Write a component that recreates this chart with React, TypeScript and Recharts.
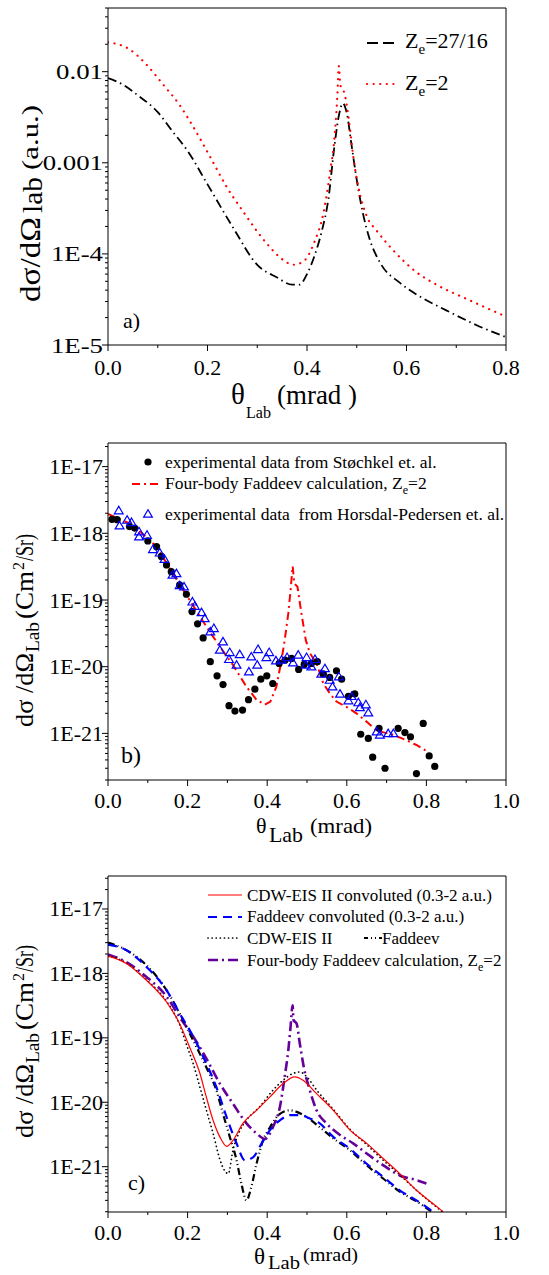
import React from 'react';
import { ComposedChart, Line, Scatter, XAxis, YAxis, ReferenceLine } from 'recharts';

const SERIF = "'Liberation Serif', 'Times New Roman', Tinos, 'DejaVu Serif', serif";

// ---------- Panel a data ----------
const aZe2716: [number, number][] = [
  [0, 0.0085], [0.03, 0.0072], [0.06, 0.0055], [0.1, 0.0036], [0.13, 0.0022], [0.16, 0.00135],
  [0.2, 0.00058], [0.25, 0.0002], [0.3, 7.6e-5], [0.34, 5.5e-5], [0.37, 4.6e-5], [0.385, 4.6e-5],
  [0.4, 6.0e-5], [0.415, 9.5e-5], [0.43, 1.8e-4], [0.443, 4.0e-4], [0.455, 0.0015], [0.465, 0.0035],
  [0.472, 0.0045], [0.48, 0.0035], [0.49, 0.0015], [0.5, 6.5e-4], [0.513, 2.7e-4], [0.526, 1.45e-4],
  [0.547, 8.0e-5], [0.587, 4.8e-5], [0.627, 3.4e-5], [0.68, 2.4e-5], [0.74, 1.66e-5], [0.8, 1.22e-5],
];
const aZe2: [number, number][] = [
  [0, 0.021], [0.044, 0.0175], [0.077, 0.012], [0.111, 0.0072], [0.144, 0.0043], [0.171, 0.0025],
  [0.205, 0.00117], [0.238, 5.5e-4], [0.272, 2.9e-4], [0.319, 1.3e-4], [0.352, 8.6e-5], [0.372, 7.6e-5],
  [0.392, 8.2e-5], [0.416, 1.4e-4], [0.433, 2.8e-4], [0.446, 7.7e-4], [0.456, 0.0021], [0.461, 0.0054],
  [0.464, 0.0115], [0.467, 0.0072], [0.476, 0.0056], [0.484, 0.003], [0.493, 0.00117], [0.503, 5.5e-4],
  [0.52, 2.6e-4], [0.54, 1.8e-4], [0.573, 1.1e-4], [0.62, 6.3e-5], [0.66, 4.6e-5], [0.721, 3.2e-5], [0.8, 2.05e-5],
];
const aXTicks = [0, 0.1, 0.2, 0.3, 0.4, 0.5, 0.6, 0.7, 0.8];
const aYLabels: [number, string][] = [[1e-2, '0.01'], [1e-3, '0.001'], [1e-4, '1E-4'], [1e-5, '1E-5']];
const aDecades = [1e-5, 1e-4, 1e-3, 1e-2];
const aDomain: [number, number] = [1e-5, 0.05];

// ---------- Panel b data ----------
const bStoechkel: [number, number][] = [
  [0.01, 1.62e-18], [0.023, 1.6e-18], [0.054, 1.26e-18], [0.067, 1.2e-18], [0.1, 7.7e-19], [0.122, 6.3e-19],
  [0.134, 4.5e-19], [0.147, 3.35e-19], [0.159, 2.66e-19], [0.18, 1.68e-19], [0.197, 1.22e-19], [0.211, 6.7e-20],
  [0.225, 4.4e-20], [0.239, 2.7e-20], [0.257, 1.19e-20], [0.274, 7.3e-21], [0.289, 5.4e-21], [0.304, 2.6e-21],
  [0.319, 2.16e-21], [0.338, 2.24e-21], [0.353, 3.2e-21], [0.369, 4.6e-21], [0.384, 6.5e-21], [0.399, 7.3e-21],
  [0.414, 5.6e-21], [0.43, 1.12e-20], [0.445, 1.26e-20], [0.461, 1.33e-20], [0.479, 9.1e-21], [0.493, 1.08e-20],
  [0.511, 1.12e-20], [0.526, 1.19e-20], [0.541, 7.8e-21], [0.557, 6.9e-21], [0.574, 8.7e-21], [0.587, 6.5e-21],
  [0.604, 3.6e-21], [0.62, 3.9e-21], [0.635, 9.7e-22], [0.654, 8.4e-22], [0.665, 4.4e-22], [0.681, 1.19e-21],
  [0.696, 3.0e-22], [0.729, 1.19e-21], [0.746, 1.03e-21], [0.76, 8.9e-22], [0.775, 2.5e-22], [0.792, 1.41e-21],
  [0.807, 4.6e-22], [0.821, 3.2e-22],
];
const bHorsdal: [number, number][] = [
  [0.027, 2.19e-18], [0.029, 1.3e-18], [0.048, 1.58e-18], [0.059, 1.46e-18], [0.078, 1.06e-18], [0.078, 8.9e-19],
  [0.098, 9.4e-19], [0.113, 5.75e-19], [0.13, 5.1e-19], [0.142, 4.1e-19], [0.162, 2.37e-19], [0.172, 2.5e-19],
  [0.18, 1.65e-19], [0.191, 1.58e-19], [0.212, 9.4e-20], [0.218, 8.1e-20], [0.235, 6.5e-20], [0.243, 5.3e-20],
  [0.257, 3.35e-20], [0.266, 3.76e-20], [0.281, 1.78e-20], [0.289, 2.37e-20], [0.304, 1.29e-20], [0.306, 1.64e-20],
  [0.323, 1.06e-20], [0.331, 1.53e-20], [0.354, 8.4e-21], [0.36, 1.41e-20], [0.375, 1.06e-20], [0.377, 1.82e-20],
  [0.398, 1.38e-20], [0.405, 1.64e-20], [0.422, 1.23e-20], [0.436, 1.26e-20], [0.45, 1.38e-20], [0.465, 1.15e-20],
  [0.478, 1.5e-20], [0.497, 1.06e-20], [0.499, 1.38e-20], [0.511, 1.0e-20], [0.52, 1.29e-20], [0.536, 7.8e-21],
  [0.545, 9.4e-21], [0.557, 6.3e-21], [0.564, 5.0e-21], [0.58, 7.1e-21], [0.583, 3.9e-21], [0.604, 3.1e-21],
  [0.612, 3.6e-21], [0.629, 2.9e-21], [0.633, 2.45e-21], [0.648, 2.7e-21], [0.654, 2.04e-21], [0.675, 1.06e-21],
  [0.683, 9.5e-22], [0.704, 1.0e-21], [0.717, 1.0e-21],
];
const bFaddeev: [number, number][] = [
  [0, 1.95e-18], [0.063, 1.33e-18], [0.122, 6.3e-19], [0.163, 2.5e-19], [0.205, 1.0e-19], [0.247, 4.0e-20],
  [0.281, 2.0e-20], [0.314, 1.06e-20], [0.348, 5.0e-21], [0.373, 3.2e-21], [0.394, 2.7e-21], [0.408, 3.0e-21],
  [0.423, 5.0e-21], [0.436, 1.26e-20], [0.444, 2.5e-20], [0.453, 6.3e-20], [0.458, 1.26e-19], [0.464, 3.2e-19],
  [0.468, 1.78e-19], [0.476, 1.58e-19], [0.486, 6.3e-20], [0.497, 2.5e-20], [0.507, 1.6e-20], [0.524, 1.12e-20],
  [0.541, 5.6e-21], [0.557, 4.0e-21], [0.574, 3.0e-21], [0.599, 2.5e-21], [0.624, 2.0e-21], [0.65, 1.5e-21],
  [0.675, 1.1e-21], [0.717, 9.5e-22], [0.75, 7.9e-22], [0.775, 6.7e-22], [0.803, 5.3e-22],
];
const bcXTicks = [0, 0.1, 0.2, 0.3, 0.4, 0.5, 0.6, 0.7, 0.8, 0.9, 1.0];
const bcYLabels: [number, string][] = [[1e-17, '1E-17'], [1e-18, '1E-18'], [1e-19, '1E-19'], [1e-20, '1E-20'], [1e-21, '1E-21']];
const bcDecades = [1e-22, 1e-21, 1e-20, 1e-19, 1e-18, 1e-17];
const bDomain: [number, number] = [2e-22, 2.26e-17];

// ---------- Panel c data ----------
const cCdwConv: [number, number][] = [
  [0, 1.86e-18], [0.046, 1.43e-18], [0.096, 7.9e-19], [0.147, 3.6e-19], [0.18, 1.66e-19], [0.205, 7.2e-20],
  [0.231, 2.8e-20], [0.247, 1.21e-20], [0.264, 5.25e-21], [0.281, 2.9e-21], [0.298, 2.07e-21], [0.314, 2.57e-21],
  [0.339, 4.7e-21], [0.373, 7.5e-21], [0.407, 1.21e-20], [0.44, 1.95e-20], [0.469, 2.48e-20], [0.49, 2.2e-20],
  [0.524, 1.36e-20], [0.566, 7.5e-21], [0.608, 3.7e-21], [0.65, 2.3e-21], [0.692, 1.33e-21], [0.733, 7.8e-22],
  [0.775, 4.3e-22], [0.817, 2.66e-22], [0.842, 2.0e-22],
];
const cFadConv: [number, number][] = [
  [0, 2.8e-18], [0.046, 2.3e-18], [0.096, 1.27e-18], [0.147, 5.5e-19], [0.18, 2.4e-19], [0.214, 1.05e-19],
  [0.247, 4.0e-20], [0.272, 1.74e-20], [0.298, 5.9e-21], [0.323, 2.3e-21], [0.344, 1.26e-21], [0.365, 1.41e-21],
  [0.386, 2.3e-21], [0.407, 3.7e-21], [0.432, 5.25e-21], [0.457, 6.3e-21], [0.482, 6.3e-21], [0.507, 5.6e-21],
  [0.532, 4.7e-21], [0.566, 2.9e-21], [0.608, 1.9e-21], [0.65, 1.11e-21], [0.692, 6.9e-22], [0.733, 4.3e-22],
  [0.775, 3.0e-22], [0.817, 2.0e-22],
];
const cCdw: [number, number][] = [
  [0, 1.9e-18], [0.046, 1.45e-18], [0.096, 8.0e-19], [0.147, 3.7e-19], [0.18, 1.6e-19], [0.2, 7.0e-20],
  [0.214, 4.0e-20], [0.23, 1.8e-20], [0.247, 7.6e-21], [0.264, 3.3e-21], [0.281, 1.3e-21], [0.293, 8.7e-22],
  [0.302, 7.8e-22], [0.314, 1.8e-21], [0.331, 3.6e-21], [0.348, 5.3e-21], [0.381, 8.5e-21], [0.415, 1.55e-20],
  [0.44, 2.2e-20], [0.465, 2.8e-20], [0.482, 2.95e-20], [0.499, 2.5e-20], [0.524, 1.55e-20], [0.566, 7.8e-21],
  [0.608, 3.8e-21], [0.65, 2.2e-21], [0.692, 1.25e-21], [0.733, 7.5e-22], [0.775, 4.3e-22], [0.817, 2.6e-22], [0.84, 2.0e-22],
];
const cFad: [number, number][] = [
  [0, 3.0e-18], [0.046, 2.3e-18], [0.096, 1.35e-18], [0.147, 5.5e-19], [0.18, 2.4e-19], [0.214, 9.1e-20],
  [0.247, 3.5e-20], [0.272, 1.55e-20], [0.289, 6.6e-21], [0.306, 2.9e-21], [0.323, 1.26e-21], [0.335, 5.5e-22],
  [0.348, 3.0e-22], [0.36, 4.8e-22], [0.373, 1.1e-21], [0.39, 2.6e-21], [0.407, 4.1e-21], [0.432, 6.6e-21],
  [0.457, 7.5e-21], [0.474, 7.1e-21], [0.499, 5.9e-21], [0.532, 4.1e-21], [0.566, 2.75e-21], [0.608, 1.8e-21],
  [0.65, 1.05e-21], [0.692, 6.5e-22], [0.733, 4.1e-22], [0.775, 2.9e-22], [0.813, 2.0e-22],
];
const cFourBody: [number, number][] = [
  [0, 1.97e-18], [0.046, 1.5e-18], [0.096, 8.9e-19], [0.147, 4.4e-19], [0.18, 2.1e-19], [0.214, 1.05e-19],
  [0.247, 4.8e-20], [0.281, 1.95e-20], [0.314, 9.5e-21], [0.348, 4.7e-21], [0.373, 3.3e-21], [0.394, 2.7e-21],
  [0.415, 4.2e-21], [0.432, 8.5e-21], [0.444, 2.5e-20], [0.453, 6.4e-20], [0.458, 1.32e-19], [0.464, 3.2e-19],
  [0.466, 1.9e-19], [0.474, 1.66e-19], [0.482, 8.1e-20], [0.492, 3.5e-20], [0.507, 1.54e-20], [0.524, 7.5e-21],
  [0.549, 4.7e-21], [0.583, 3.1e-21], [0.616, 2.3e-21], [0.65, 1.6e-21], [0.692, 1.05e-21], [0.733, 7.3e-22],
  [0.775, 6.2e-22], [0.8, 5.5e-22],
];
const cDomain: [number, number] = [1.98e-22, 3.25e-17];

const seriesNames = {
  a1: 'Ze=27/16', a2: 'Ze=2',
  b1: 'experimental data from Støchkel et. al.', b2: 'Four-body Faddeev calculation, Ze=2',
  b3: 'experimental data  from Horsdal-Pedersen et. al.',
  c1: 'CDW-EIS II convoluted (0.3-2 a.u.)', c2: 'Faddeev convoluted (0.3-2 a.u.)', c3: 'CDW-EIS II',
  c4: 'Faddeev', c5: 'Four-body Faddeev calculation, Ze=2',
};

// ---------- styles ----------
const stA1 = { stroke: '#000', strokeWidth: 1.8, strokeDasharray: '9 4 1.5 4' };
const stA2 = { stroke: '#ff0000', strokeWidth: 2.2, strokeDasharray: '0.1 6.5', strokeLinecap: 'round' as const };
const stB = { stroke: '#ff0000', strokeWidth: 2, strokeDasharray: '8 4 2 4' };
const stC1 = { stroke: '#ff0000', strokeWidth: 1.2 };
const stC2 = { stroke: '#0000ff', strokeWidth: 2.2, strokeDasharray: '9 6' };
const stC3 = { stroke: '#000', strokeWidth: 1.7, strokeDasharray: '0.1 4', strokeLinecap: 'round' as const };
const stC4 = { stroke: '#000', strokeWidth: 2.2, strokeDasharray: '7 3 1 3 1 3' };
const stC5 = { stroke: '#660099', strokeWidth: 2.6, strokeDasharray: '10 4 2 4' };

const PL = 108;
const TXT = { fontFamily: SERIF };

const pts = (a: [number, number][]) => a.map(([x, y]) => ({ x, y }));

const logTicks = (decades: number[], dom: [number, number]) => {
  const out: number[] = [];
  decades.forEach((d) => {
    for (let k = 1; k < 10; k++) {
      const v = d * k;
      if (v >= dom[0] * 0.999 && v <= dom[1] * 1.001) out.push(v);
    }
  });
  return out;
};

const makeYTick = (labels: [number, string][], sx: number) => (p: any) => {
  const v = p.payload.value;
  const lab = labels.find(([t]) => Math.abs(t - v) / t < 1e-6);
  const len = lab ? 6 : 3;
  return (
    <g>
      <line x1={PL} x2={PL - len} y1={p.y} y2={p.y} stroke="#000" strokeWidth={1} />
      {lab && (
        <text x={0} y={0} transform={`translate(${PL - 5},${p.y + 7.5}) scale(${sx},1)`} textAnchor="end"
          style={TXT} fontSize={22} fill="#000">
          {lab[1]}
        </text>
      )}
    </g>
  );
};

const makeXTick = (bottom: number, dy: number) => (p: any) => {
  const v = p.payload.value;
  const major = Math.round(v * 10) % 2 === 0;
  return (
    <g>
      <line x1={p.x} x2={p.x} y1={bottom} y2={bottom + (major ? 6 : 3)} stroke="#000" strokeWidth={1} />
      {major && (
        <text x={p.x} y={bottom + dy} textAnchor="middle" style={TXT} fontSize={22} fill="#000">
          {v.toFixed(1)}
        </text>
      )}
    </g>
  );
};

const lineCommon = { dot: false, activeDot: false, isAnimationActive: false, type: 'monotone' as const, dataKey: 'y' };

const DotShape = (p: any) => <circle cx={p.cx} cy={p.cy} r={3.6} fill="#000" />;
const TriShape = (p: any) => (
  <polygon
    points={`${p.cx},${p.cy - 4.3} ${p.cx - 4.4},${p.cy + 3.2} ${p.cx + 4.4},${p.cy + 3.2}`}
    fill="none"
    stroke="#0000ff"
    strokeWidth={1.2}
  />
);

function PanelA() {
  return (
    <ComposedChart width={549} height={420} margin={{ top: 8, right: 43, bottom: 45, left: 0 }}>
      <XAxis type="number" dataKey="x" domain={[0, 0.8]} ticks={aXTicks} interval={0} tickLine={false}
        tick={makeXTick(345, 30)} axisLine={{ stroke: '#000' }} height={30} allowDataOverflow />
      <YAxis type="number" dataKey="y" scale="log" domain={aDomain} ticks={logTicks(aDecades, aDomain)} interval={0}
        tickLine={false} tick={makeYTick(aYLabels, 1.22)} width={108} axisLine={{ stroke: '#000' }} allowDataOverflow />
      <ReferenceLine y={aDomain[1]} stroke="#000" strokeWidth={1} />
      <ReferenceLine x={0.8} stroke="#000" strokeWidth={1} />
      <Line {...lineCommon} data={pts(aZe2716)} name={seriesNames.a1} {...stA1} />
      <Line {...lineCommon} data={pts(aZe2)} name={seriesNames.a2} {...stA2} />
    </ComposedChart>
  );
}

function PanelB() {
  return (
    <ComposedChart width={549} height={430} margin={{ top: 23, right: 43, bottom: 40, left: 0 }}>
      <XAxis type="number" dataKey="x" domain={[0, 1]} ticks={bcXTicks} interval={0} tickLine={false}
        tick={makeXTick(360, 28)} axisLine={{ stroke: '#000' }} height={30} allowDataOverflow />
      <YAxis type="number" dataKey="y" scale="log" domain={bDomain} ticks={logTicks(bcDecades, bDomain)} interval={0}
        tickLine={false} tick={makeYTick(bcYLabels, 1)} width={108} axisLine={{ stroke: '#000' }} allowDataOverflow />
      <ReferenceLine y={bDomain[1]} stroke="#000" strokeWidth={1} />
      <ReferenceLine x={1} stroke="#000" strokeWidth={1} />
      <Line {...lineCommon} type="linear" data={pts(bFaddeev)} name={seriesNames.b2} {...stB} />
      <Scatter data={pts(bStoechkel)} dataKey="y" name={seriesNames.b1} shape={DotShape} isAnimationActive={false} />
      <Scatter data={pts(bHorsdal)} dataKey="y" name={seriesNames.b3} shape={TriShape} isAnimationActive={false} />
    </ComposedChart>
  );
}

function PanelC() {
  return (
    <ComposedChart width={549} height={425} margin={{ top: 26, right: 43, bottom: 33, left: 0 }}>
      <XAxis type="number" dataKey="x" domain={[0, 1]} ticks={bcXTicks} interval={0} tickLine={false}
        tick={makeXTick(362, 28)} axisLine={{ stroke: '#000' }} height={30} allowDataOverflow />
      <YAxis type="number" dataKey="y" scale="log" domain={cDomain} ticks={logTicks(bcDecades, cDomain)} interval={0}
        tickLine={false} tick={makeYTick(bcYLabels, 1)} width={108} axisLine={{ stroke: '#000' }} allowDataOverflow />
      <ReferenceLine y={cDomain[1]} stroke="#000" strokeWidth={1} />
      <ReferenceLine x={1} stroke="#000" strokeWidth={1} />
      <Line {...lineCommon} data={pts(cFourBody)} name={seriesNames.c5} {...stC5} />
      <Line {...lineCommon} data={pts(cFad)} name={seriesNames.c4} {...stC4} />
      <Line {...lineCommon} data={pts(cFadConv)} name={seriesNames.c2} {...stC2} />
      <Line {...lineCommon} data={pts(cCdw)} name={seriesNames.c3} {...stC3} />
      <Line {...lineCommon} data={pts(cCdwConv)} name={seriesNames.c1} {...stC1} />
    </ComposedChart>
  );
}

const T = (props: any) => <text style={TXT} fill="#000" {...props} />;

const Sample = ({ x1, x2, y, st }: any) => <line x1={x1} x2={x2} y1={y} y2={y} {...st} />;

function YTitleLab({ x, y0 }: { x: number; y0: number }) {
  return (
    <g transform={`translate(${x},${y0}) rotate(-90)`}>
      <T x={0} y={0} fontSize={25} textLength={74} lengthAdjust="spacingAndGlyphs">dσ /dΩ</T>
      <T x={75} y={6} fontSize={18} textLength={30} lengthAdjust="spacingAndGlyphs">Lab</T>
      <T x={108} y={0} fontSize={25} textLength={48} lengthAdjust="spacingAndGlyphs">(Cm</T>
      <T x={157} y={-9} fontSize={16}>2</T>
      <T x={166} y={0} fontSize={25} textLength={27} lengthAdjust="spacingAndGlyphs">/Sr)</T>
    </g>
  );
}

function Overlay() {
  return (
    <svg width={549} height={1275} style={{ position: 'absolute', left: 0, top: 0, pointerEvents: 'none' }}>
      {/* Panel a */}
      <g transform="translate(40,302) rotate(-90)">
        <T x={0} y={0} fontSize={30} textLength={85} lengthAdjust="spacingAndGlyphs">dσ/dΩ</T>
        <T x={89} y={2} fontSize={28} textLength={36} lengthAdjust="spacingAndGlyphs">lab</T>
        <T x={132} y={-2} fontSize={24} textLength={65} lengthAdjust="spacingAndGlyphs">(a.u.)</T>
      </g>
      <T x={231} y={404} fontSize={29}>θ</T>
      <T x={246} y={418} fontSize={16} textLength={25} lengthAdjust="spacingAndGlyphs">Lab</T>
      <T x={277} y={404} fontSize={28} textLength={80} lengthAdjust="spacingAndGlyphs">(mrad )</T>
      <T x={123} y={328} fontSize={22}>a)</T>
      <Sample x1={367} x2={394} y={43} st={{ stroke: '#000', strokeWidth: 1.8, strokeDasharray: '11 5' }} />
      <T x={405} y={48} fontSize={22}>Z<tspan fontSize={15} dy={6}>e</tspan><tspan dy={-6}>=27/16</tspan></T>
      <Sample x1={367} x2={394} y={84} st={stA2} />
      <T x={405} y={90} fontSize={22}>Z<tspan fontSize={15} dy={6}>e</tspan><tspan dy={-6}>=2</tspan></T>

      {/* Panel b */}
      <YTitleLab x={33} y0={727} />
      <T x={256} y={833} fontSize={22}>θ</T>
      <T x={269} y={842} fontSize={22} textLength={34} lengthAdjust="spacingAndGlyphs">Lab</T>
      <T x={310} y={833} fontSize={21} textLength={62} lengthAdjust="spacingAndGlyphs">(mrad)</T>
      <T x={121} y={763} fontSize={24}>b)</T>
      <circle cx={148} cy={462} r={3.6} fill="#000" />
      <T x={165} y={468} fontSize={17.5}>{seriesNames.b1}</T>
      <Sample x1={132} x2={159} y={484} st={stB} />
      <T x={165} y={489} fontSize={17.5}>Four-body Faddeev calculation, Z<tspan fontSize={12} dy={5}>e</tspan><tspan dy={-5}>=2</tspan></T>
      <polygon points="148,509.7 143.6,517.2 152.4,517.2" fill="none" stroke="#0000ff" strokeWidth={1.2} />
      <T x={165} y={520} fontSize={17.5} xmlSpace="preserve">{seriesNames.b3}</T>

      {/* Panel c */}
      <YTitleLab x={33} y0={1138} />
      <T x={254} y={1264} fontSize={23}>θ</T>
      <T x={268} y={1269} fontSize={19} textLength={32} lengthAdjust="spacingAndGlyphs">Lab</T>
      <T x={303} y={1261} fontSize={19} textLength={55} lengthAdjust="spacingAndGlyphs">(mrad)</T>
      <T x={128} y={1190} fontSize={22}>c)</T>
      <Sample x1={208} x2={242} y={895} st={stC1} />
      <T x={247} y={901} fontSize={17}>{seriesNames.c1}</T>
      <Sample x1={208} x2={242} y={917} st={stC2} />
      <T x={247} y={922} fontSize={17}>{seriesNames.c2}</T>
      <Sample x1={208} x2={238} y={938} st={stC3} />
      <T x={247} y={944} fontSize={17}>{seriesNames.c3}</T>
      <Sample x1={364} x2={382} y={938} st={{ ...stC4, strokeDasharray: '4 3 1 3 1 3' }} />
      <T x={382} y={944} fontSize={17}>{seriesNames.c4}</T>
      <Sample x1={208} x2={242} y={960} st={stC5} />
      <T x={247} y={966} fontSize={17}>Four-body Faddeev calculation, Z<tspan fontSize={12} dy={5}>e</tspan><tspan dy={-5}>=2</tspan></T>
    </svg>
  );
}

export default function App() {
  return (
    <div style={{ position: 'absolute', left: 0, top: 0, width: 549, height: 1275, background: '#fff', overflow: 'hidden', fontFamily: SERIF }}>
      <div style={{ position: 'absolute', left: 0, top: 0 }}><PanelA /></div>
      <div style={{ position: 'absolute', left: 0, top: 420 }}><PanelB /></div>
      <div style={{ position: 'absolute', left: 0, top: 850 }}><PanelC /></div>
      <Overlay />
    </div>
  );
}
